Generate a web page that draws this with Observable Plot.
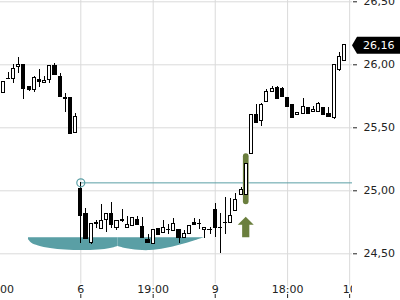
<!DOCTYPE html>
<html><head><meta charset="utf-8">
<script src="https://cdn.jsdelivr.net/npm/d3@7"></script>
<script src="https://cdn.jsdelivr.net/npm/@observablehq/plot@0.6"></script>
<style>body{margin:0;background:#fff;}</style>
</head><body><div id="chart"></div>
<script>
// ---- data ----
const opens  = [25.78,25.885,25.889,25.984,26.002,25.820,25.802,25.883,25.857,25.881,25.989,25.907,25.740,25.733,25.457,
  25.016,24.812,24.584,24.748,24.695,24.770,24.812,24.706,24.770,24.706,24.722,24.768,24.714,24.606,24.579,24.699,24.667,24.685,24.683,24.690,24.627,24.659,24.743,24.740,24.690,24.685,
  24.849,24.706,24.741,24.746,24.836,24.968,24.968,25.296,25.603,25.550,25.703,25.786,25.814,25.804,25.738,25.683,25.603,25.611,25.659,25.627,25.629,25.661,25.606,25.579,25.955,26.034];
const highs  = [25.87,25.941,26.000,26.058,26.005,25.828,25.907,25.963,25.907,25.990,26.013,25.931,25.770,25.733,25.616,
  25.063,24.857,24.743,24.764,24.891,24.822,24.907,24.764,24.852,24.800,24.784,24.799,24.788,24.657,24.693,24.699,24.764,24.731,24.780,24.690,24.685,24.723,24.778,24.774,24.706,24.709,
  24.902,24.822,24.944,24.941,24.976,25.029,25.214,25.598,25.685,25.690,25.806,25.828,25.825,25.822,25.738,25.683,25.621,25.730,25.659,25.669,25.698,25.661,25.663,26.000,26.095,26.165];
const lows   = [25.77,25.885,25.854,25.933,25.727,25.792,25.783,25.822,25.857,25.849,25.917,25.743,25.624,25.449,25.457,
  24.584,24.616,24.574,24.703,24.695,24.671,24.703,24.685,24.746,24.706,24.722,24.727,24.629,24.586,24.579,24.651,24.667,24.651,24.683,24.579,24.627,24.659,24.731,24.695,24.619,24.653,
  24.632,24.500,24.651,24.746,24.836,24.968,24.968,25.296,25.540,25.513,25.703,25.786,25.730,25.743,25.663,25.579,25.603,25.611,25.611,25.627,25.629,25.603,25.587,25.566,25.947,26.029];
const closes = [25.867,25.89,25.968,26.002,25.806,25.798,25.899,25.862,25.875,25.987,25.917,25.743,25.727,25.449,25.582,
  24.798,24.616,24.733,24.738,24.762,24.812,24.729,24.764,24.759,24.725,24.784,24.727,24.629,24.586,24.685,24.651,24.706,24.687,24.739,24.625,24.659,24.723,24.731,24.736,24.706,24.687,
  24.706,24.708,24.745,24.802,24.929,25.008,25.214,25.598,25.540,25.683,25.788,25.804,25.730,25.743,25.663,25.579,25.621,25.663,25.611,25.645,25.685,25.603,25.587,26.000,26.060,26.160];

const xTicks      = [-1, 15, 29, 41, 55, 67];
const xTickLabels = ["17:00", "6", "19:00", "9", "18:00", "10"];
const yTicks      = [24.5, 25.0, 25.5, 26.0, 26.5];

// resistance level (teal line) starting at candle 15 high
const levelStart = 15;
const levelValue = 25.063;

// teal pattern shape (two lobes)
const cloudTop   = 24.627;
const cloudI     = [4.88,5.46,6.82,9.14,12.04,15.33,18.42,20.74,22.20,  22.20,23.65,26.16,28.48,31.38,34.28,36.80,38.93];
const cloudBot   = [24.613,24.586,24.562,24.542,24.530,24.526,24.530,24.542,24.558,  24.558,24.542,24.528,24.526,24.542,24.570,24.600,24.627];
const cloudLobe  = [1,1,1,1,1,1,1,1,1, 2,2,2,2,2,2,2,2];

// breakout signal
const signalIndex = 47;
const signalHi = 25.294, signalLo = 24.889;
const arrowTip = 24.79, arrowNeck = 24.727, arrowBase = 24.627;

const lastPrice = closes[closes.length - 1];

// ---- build tables ----
const candles = opens.map((o, i) => ({i, open: o, high: highs[i], low: lows[i], close: closes[i]}));
const cloud = cloudI.map((x, k) => ({i: x, b: cloudBot[k], lobe: cloudLobe[k]}));
const xTickData = xTicks.map((t, k) => ({i: t, label: xTickLabels[k]}));
const fmt = d => d.toFixed(2).replace(".", ",");

const teal = "#5a9fa5";
const green = "#6b7f3e";
const grid = "#dadada";
const xDomain = [-0.532, 67.553];

const arrowMark = (index, scales) => {
  const cx = scales.x(signalIndex);
  const yt = scales.y(arrowTip), yn = scales.y(arrowNeck), yb = scales.y(arrowBase);
  const g = d3.create("svg:g");
  g.append("path")
    .attr("d", `M${cx},${yt}L${cx+8},${yn}L${cx+3.6},${yn}L${cx+3.6},${yb}L${cx-3.6},${yb}L${cx-3.6},${yn}L${cx-8},${yn}Z`)
    .attr("fill", green);
  return g.node();
};

const badgeMark = (index, scales, values, dims) => {
  const y = scales.y(lastPrice) + 1;
  const x0 = dims.width - dims.marginRight;
  const g = d3.create("svg:g");
  g.append("path")
    .attr("d", `M${x0},${y}L${x0+5},${y-8.5}L${dims.width},${y-8.5}L${dims.width},${y+8.5}L${x0+5},${y+8.5}Z`)
    .attr("fill", "#000");
  g.append("text")
    .attr("x", x0 + 11).attr("y", y).attr("dy", "0.36em")
    .attr("text-anchor", "start")
    .attr("fill", "#fff").attr("font-size", 11)
    .text(fmt(lastPrice));
  return g.node();
};

const chart = Plot.plot({
  width: 400, height: 300,
  marginLeft: 0, marginRight: 48, marginTop: 0, marginBottom: 6,
  style: {fontFamily: "DejaVu Sans", fontSize: "11px", color: "#222", background: "#fff"},
  x: {domain: xDomain, label: null},
  y: {domain: [24.177, 26.5103], label: null},
  marks: [
    Plot.gridX(xTicks, {stroke: grid, strokeOpacity: 1}),
    Plot.gridY(yTicks, {stroke: grid, strokeOpacity: 1}),
    Plot.areaY(cloud, {x: "i", y1: () => cloudTop, y2: "b", z: "lobe", fill: teal, curve: "catmull-rom"}),
    Plot.ruleY([levelValue], {x1: levelStart, x2: xDomain[1], stroke: teal, strokeWidth: 1, clip: true}),
    Plot.rect([{i: signalIndex, hi: signalHi, lo: signalLo}], {x1: d => d.i - 0.55, x2: d => d.i + 0.55, y1: "lo", y2: "hi", fill: green, rx: 3}),
    arrowMark,
    Plot.ruleX(candles, {x: "i", y1: "low", y2: "high", stroke: "#000", shapeRendering: "crispEdges"}),
    Plot.rect(candles, {filter: d => d.close >= d.open, x1: d => d.i - 0.3, x2: d => d.i + 0.3, y1: "open", y2: "close", fill: "#fff", stroke: "#000", shapeRendering: "crispEdges"}),
    Plot.rect(candles, {filter: d => d.close < d.open, x1: d => d.i - 0.3, x2: d => d.i + 0.3, y1: "open", y2: "close", fill: "#000", stroke: "#000", shapeRendering: "crispEdges"}),
    Plot.dot([{i: levelStart, v: levelValue}], {x: "i", y: "v", r: 4, stroke: teal, fill: "none", strokeWidth: 1.2}),
    Plot.axisY(yTicks, {anchor: "right", tickSize: 4, tickPadding: 7, tickFormat: fmt, stroke: "#222", label: null}),
    Plot.text(xTickData, {x: "i", text: "label", frameAnchor: "bottom", lineAnchor: "bottom", dy: -2, clip: true, fill: "#222", stroke: "#fff", strokeWidth: 3}),
    Plot.axisX(xTicks, {anchor: "bottom", tickSize: 4, tickFormat: () => "", stroke: "#222", label: null}),
    badgeMark
  ]
});
document.getElementById("chart").appendChild(chart);
</script></body></html>
